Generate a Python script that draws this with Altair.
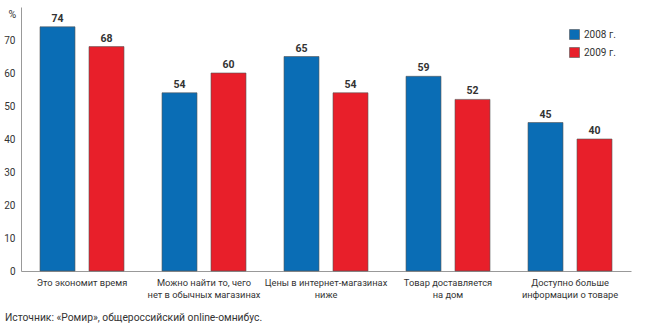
import altair as alt
import pandas as pd

categories = [
    "Это экономит время",
    "Можно найти то, чего|нет в обычных магазинах",
    "Цены в интернет-магазинах|ниже",
    "Товар доставляется|на дом",
    "Доступно больше|информации о товаре",
]
years = ["2008 г.", "2009 г."]
values_2008 = [74, 54, 65, 59, 45]
values_2009 = [68, 60, 54, 52, 40]
y_ticks = [0, 10, 20, 30, 40, 50, 60, 70]
colors = ["#0a6db5", "#e81f2a"]
source = "Источник: «Ромир», общероссийский online-омнибус."

rows = []
for c, a, b in zip(categories, values_2008, values_2009):
    rows.append({"cat": c, "year": years[0], "v": a})
    rows.append({"cat": c, "year": years[1], "v": b})
df = pd.DataFrame(rows)

FONT = "Roboto"

x = alt.X("cat:N", sort=categories, title=None,
          scale=alt.Scale(paddingInner=0, paddingOuter=0),
          axis=alt.Axis(labelExpr="split(datum.label, '|')", labelAngle=0,
                        labelFontSize=9.3, labelColor="#333", labelFont=FONT,
                        ticks=False, domainColor="#999", labelPadding=7,
                        labelLineHeight=12))
xo = alt.XOffset("year:N", sort=years,
                 scale=alt.Scale(paddingInner=0.286, paddingOuter=0.388))
y = alt.Y("v:Q", title="%",
          scale=alt.Scale(domain=[0, 80], nice=False),
          axis=alt.Axis(values=y_ticks, grid=False, ticks=False, domainColor="#999",
                        labelFontSize=10, labelColor="#333", labelFont=FONT,
                        labelPadding=6, titleAngle=0, titleX=-13, titleY=12,
                        titleFontSize=10.5, titleFontWeight="normal", titleColor="#333",
                        titleFont=FONT, titleAlign="left"))

bars = alt.Chart(df).mark_bar(stroke="#555", strokeWidth=0.6).encode(
    x=x, xOffset=xo, y=y,
    color=alt.Color("year:N", sort=years,
                    scale=alt.Scale(domain=years, range=colors),
                    legend=alt.Legend(title=None, orient="none", legendX=548, legendY=22,
                                      symbolType="square", symbolSize=100,
                                      symbolStrokeColor="#555", symbolStrokeWidth=0.6,
                                      labelFontSize=10, labelColor="#333", labelFont=FONT,
                                      rowPadding=5)),
)
labels = alt.Chart(df).mark_text(dy=-3, fontSize=10.5, fontWeight="bold",
                                 color="#333", font=FONT, baseline="bottom").encode(
    x=x, xOffset=xo, y=y, text="v:Q")

chart = alt.layer(bars, labels).properties(
    width=610, height=264,
    autosize=alt.AutoSizeParams(type="none"),
    padding={"left": 21, "top": 7, "right": 19, "bottom": 61},
    title=alt.TitleParams(source, orient="bottom", anchor="start", frame="group",
                          dx=-16, offset=14, fontSize=10.3, fontWeight="normal",
                          color="#333", font=FONT),
).configure_view(stroke=None)

chart.save("out.html", embed_options={"renderer": "svg", "actions": False})
